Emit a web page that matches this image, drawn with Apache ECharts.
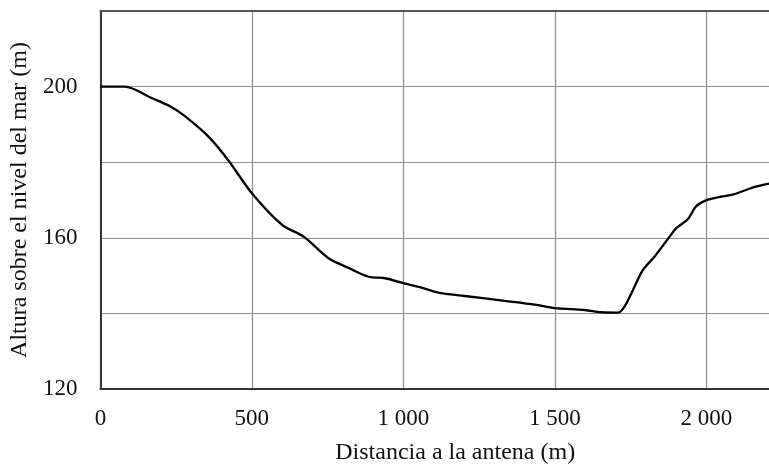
<!DOCTYPE html>
<html>
<head>
<meta charset="utf-8">
<script src="https://cdn.jsdelivr.net/npm/echarts@6/dist/echarts.min.js"></script>
<style>html,body{margin:0;padding:0;background:#fff;overflow:hidden}#c{width:800px;height:472px}</style>
</head>
<body>
<div id="c"></div>
<script>
var distance = [0, 80, 171, 230, 280, 360, 425, 500, 600, 671, 753, 820, 885, 940, 1000, 1060, 1115, 1203, 1335, 1434, 1500, 1599, 1653, 1708, 1730, 1758, 1791, 1829, 1879, 1900, 1939, 1966, 1999, 2049, 2087, 2158, 2207];
var altitude = [200, 200, 196.9, 194.8, 192.1, 186.5, 180.2, 171.8, 163.4, 160.3, 154.6, 152.0, 149.7, 149.3, 148.0, 146.8, 145.5, 144.6, 143.3, 142.3, 141.4, 140.9, 140.3, 140.2, 141.8, 146.2, 151.5, 155.0, 160.3, 162.5, 164.9, 168.3, 169.9, 170.9, 171.4, 173.4, 174.3];
var yLabels = [120, 160, 200];
var xLabels = {0: '0', 500: '500', 1000: '1 000', 1500: '1 500', 2000: '2 000'};

var font = "'Liberation Serif', 'Times New Roman', serif";
var pts = distance.map(function (d, i) { return [d, altitude[i]]; });

var chart = echarts.init(document.getElementById('c'));
chart.setOption({
  animation: false,
  backgroundColor: '#fff',
  grid: { left: 98, right: 31, top: 11, bottom: 83 },
  xAxis: [{
    type: 'value', min: 0, max: 2207, interval: 500, position: 'bottom',
    name: 'Distancia a la antena (m)', nameLocation: 'middle', nameGap: 52,
    nameTextStyle: { fontFamily: font, fontSize: 24, color: '#111', padding: [0, 0, 0, 41] },
    axisLine: { show: true, lineStyle: { color: '#333', width: 2 } },
    axisTick: { show: false },
    axisLabel: { fontFamily: font, fontSize: 23, color: '#111', margin: 18,
      formatter: function (v) { return xLabels[v] !== undefined ? xLabels[v] : ''; } },
    splitLine: { show: true, showMaxLine: false, lineStyle: { color: '#8c8c8c', width: 1.2 } }
  }, {
    type: 'value', min: 0, max: 2207, position: 'top',
    axisLine: { show: true, onZero: false, lineStyle: { color: '#555', width: 2 } },
    axisTick: { show: false }, axisLabel: { show: false }, splitLine: { show: false }
  }],
  yAxis: {
    type: 'value', min: 120, max: 220, interval: 20,
    name: 'Altura sobre el nivel del mar (m)', nameLocation: 'middle', nameGap: 63,
    nameTextStyle: { fontFamily: font, fontSize: 24, color: '#111' },
    axisLine: { show: true, lineStyle: { color: '#333', width: 2 } },
    axisTick: { show: false },
    axisLabel: { fontFamily: font, fontSize: 23, color: '#111', margin: 23, padding: [6, 0, 0, 0],
      formatter: function (v) { return yLabels.indexOf(v) >= 0 ? String(v) : ''; } },
    splitLine: { show: true, lineStyle: { color: '#8c8c8c', width: 1.2 } }
  },
  series: [{
    type: 'line', data: pts, smooth: 0.3, symbol: 'none', xAxisIndex: 0,
    lineStyle: { color: '#000', width: 2.3 }
  }]
});
</script>
</body>
</html>
